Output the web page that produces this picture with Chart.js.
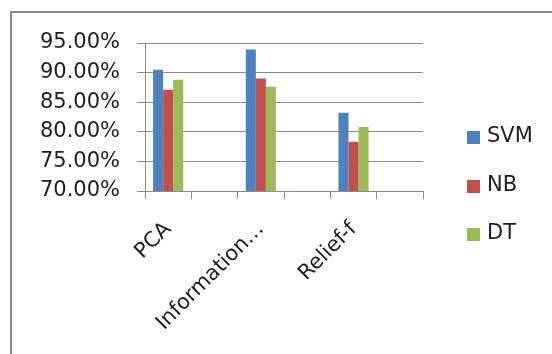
<!DOCTYPE html>
<html>
<head>
<meta charset="utf-8">
<script src="https://cdn.jsdelivr.net/npm/chart.js@4.4.0/dist/chart.umd.min.js"></script>
<style>
  html, body { margin: 0; padding: 0; background: #fff; overflow: hidden; }
  body { width: 552px; height: 354px; position: relative; }
  .hline { position: absolute; left: 10px; top: 11px; width: 542px; height: 2px; background: #8a8a8a; }
  .vline { position: absolute; left: 10px; top: 11px; width: 2px; height: 343px; background: #8a8a8a; }
  #chart { position: absolute; left: 0; top: 0; }
  .legend { position: absolute; left: 467px; top: 123px; font-family: "DejaVu Sans", sans-serif; font-size: 21px; color: #1e1e1e; }
  .legend div { height: 48.5px; display: flex; align-items: flex-start; }
  .legend span.box { width: 13px; height: 13px; margin-right: 7px; margin-top: 8px; }
</style>
</head>
<body>
<div class="hline"></div>
<div class="vline"></div>
<canvas id="chart" width="552" height="354"></canvas>
<div class="legend" id="legend"></div>
<script>
// categories (Excel left blank slots between the methods)
let categories = ["PCA", "", "Information…", "", "Relief-f", ""];

// accuracy values
let svmValues = [0.905, null, 0.939, null, 0.832, null];
let nbValues = [0.871, null, 0.890, null, 0.783, null];
let dtValues = [0.888, null, 0.876, null, 0.808, null];

let seriesNames = ["SVM", "NB", "DT"];
let seriesColors = ["#4f81bd", "#c0504d", "#9bbb59"];

// y axis ticks
let yMin = 0.70;
let yMax = 0.95;
let yStep = 0.05;

let gridColor = "#8c8c8c";

try {
  let ctx = document.getElementById("chart").getContext("2d");

  let chart = new Chart(ctx, {
    type: "bar",
    data: {
      labels: categories,
      datasets: [
        { label: seriesNames[0], data: svmValues, backgroundColor: seriesColors[0] },
        { label: seriesNames[1], data: nbValues, backgroundColor: seriesColors[1] },
        { label: seriesNames[2], data: dtValues, backgroundColor: seriesColors[2] },
      ],
    },
    options: {
      responsive: false,
      animation: false,
      layout: { padding: { left: 0, top: 43, right: 129, bottom: 0 } },
      datasets: { bar: { barPercentage: 1, categoryPercentage: 0.65 } },
      plugins: { legend: { display: false }, tooltip: { enabled: false } },
      scales: {
        x: {
          grid: { drawOnChartArea: false, drawTicks: true, tickLength: 8, color: gridColor },
          border: { color: gridColor },
          ticks: {
            autoSkip: false,
            minRotation: 45,
            maxRotation: 45,
            padding: 18,
            color: "#1e1e1e",
            font: { family: "DejaVu Sans", size: 21 },
          },
          afterFit: function (scale) {
            scale.height = 163;
          },
        },
        y: {
          min: yMin,
          max: yMax,
          grid: { color: gridColor, tickLength: 8 },
          border: { color: gridColor },
          ticks: {
            stepSize: yStep,
            padding: 17,
            color: "#1e1e1e",
            font: { family: "DejaVu Sans", size: 21 },
            callback: function (value) {
              return (value * 100).toFixed(2) + "%";
            },
          },
          afterFit: function (scale) {
            scale.width = 145;
          },
        },
      },
    },
  });

  // legend as html next to the plot
  let legend = document.getElementById("legend");
  chart.data.datasets.forEach(function (ds) {
    let row = document.createElement("div");
    let box = document.createElement("span");
    box.className = "box";
    box.style.background = ds.backgroundColor;
    let txt = document.createElement("span");
    txt.textContent = ds.label;
    row.appendChild(box);
    row.appendChild(txt);
    legend.appendChild(row);
  });
} catch (error) {
  console.log("while creating the chart:", error);
}
</script>
</body>
</html>
